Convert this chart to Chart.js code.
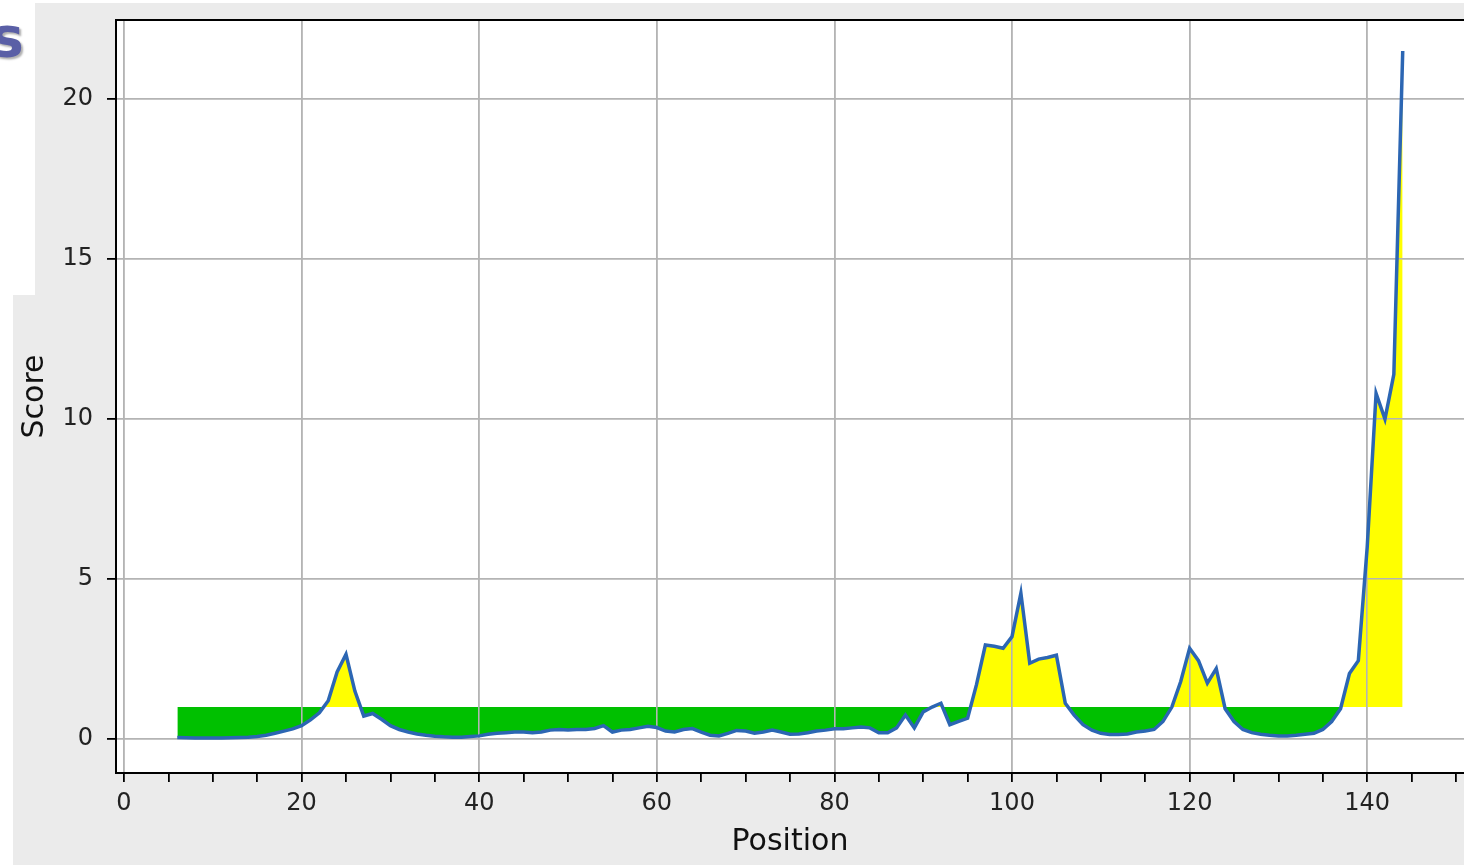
<!DOCTYPE html>
<html>
<head>
<meta charset="utf-8">
<title>Score by position</title>
<script src="https://cdn.jsdelivr.net/npm/chart.js@4.4.0/dist/chart.umd.min.js"></script>
<style>
    html, body { margin: 0; padding: 0; background: #fff; overflow: hidden; }
    #page { position: relative; width: 1464px; height: 865px; overflow: hidden; }
    #bg { position: absolute; left: 13px; top: 3px; right: 0; bottom: 0; background: #ebebeb; }
    #patch { position: absolute; left: 0; top: 0; width: 35px; height: 295px; background: #fff; }
    #title-bit {
        position: absolute; left: -9px; top: 10px;
        font: bold 55px "DejaVu Sans", sans-serif; line-height: 55px;
        color: #5a5fa6; text-shadow: 2px 2px 2px #b0b0b0;
    }
    #chart { position: absolute; left: 0; top: 0; }
</style>
</head>
<body>
<div id="page">
    <div id="bg"></div>
    <div id="patch"></div>
    <div id="title-bit">s</div>
    <canvas id="chart" width="1464" height="865"></canvas>
</div>
<script>
// --- Data ---
const positions = [
    6, 7, 8, 9, 10, 11, 12, 13, 14, 15,
    16, 17, 18, 19, 20, 21, 22, 23, 24, 25,
    26, 27, 28, 29, 30, 31, 32, 33, 34, 35,
    36, 37, 38, 39, 40, 41, 42, 43, 44, 45,
    46, 47, 48, 49, 50, 51, 52, 53, 54, 55,
    56, 57, 58, 59, 60, 61, 62, 63, 64, 65,
    66, 67, 68, 69, 70, 71, 72, 73, 74, 75,
    76, 77, 78, 79, 80, 81, 82, 83, 84, 85,
    86, 87, 88, 89, 90, 91, 92, 93, 94, 95,
    96, 97, 98, 99, 100, 101, 102, 103, 104, 105,
    106, 107, 108, 109, 110, 111, 112, 113, 114, 115,
    116, 117, 118, 119, 120, 121, 122, 123, 124, 125,
    126, 127, 128, 129, 130, 131, 132, 133, 134, 135,
    136, 137, 138, 139, 140, 141, 142, 143, 144
];

const scores = [
    0.05, 0.04, 0.03, 0.03, 0.03, 0.03, 0.04, 0.05, 0.06, 0.08,
    0.12, 0.18, 0.25, 0.32, 0.42, 0.6, 0.82, 1.2, 2.1, 2.65,
    1.5, 0.72, 0.8, 0.62, 0.42, 0.3, 0.22, 0.16, 0.12, 0.09,
    0.07, 0.06, 0.06, 0.08, 0.1, 0.15, 0.18, 0.2, 0.22, 0.22,
    0.2, 0.22, 0.28, 0.3, 0.28, 0.3, 0.3, 0.33, 0.42, 0.22,
    0.28, 0.3, 0.35, 0.4, 0.36, 0.25, 0.22, 0.3, 0.33, 0.22,
    0.12, 0.1, 0.18, 0.27, 0.25, 0.18, 0.22, 0.28, 0.22, 0.15,
    0.16, 0.2, 0.25, 0.28, 0.32, 0.32, 0.35, 0.38, 0.35, 0.2,
    0.2, 0.35, 0.75, 0.35, 0.85, 1.0, 1.12, 0.45, 0.55, 0.65,
    1.7, 2.94, 2.9, 2.84, 3.2, 4.56, 2.37, 2.5, 2.55, 2.62,
    1.12, 0.75, 0.45, 0.28, 0.18, 0.14, 0.14, 0.16, 0.22, 0.25,
    0.3, 0.55, 1.0, 1.8, 2.84, 2.45, 1.75, 2.2, 0.95, 0.55,
    0.3, 0.2, 0.15, 0.12, 0.1, 0.1, 0.12, 0.15, 0.18, 0.3,
    0.55, 0.95, 2.05, 2.45, 6.0, 10.8, 10.0, 11.4, 21.5
];

// threshold the fill is drawn against (yellow above, green below)
const threshold = 1;

// tick values: x has a tick every 5, a label + grid line every 20
const xTicks = [0, 5, 10, 15, 20, 25, 30, 35, 40, 45, 50, 55, 60, 65, 70, 75,
                80, 85, 90, 95, 100, 105, 110, 115, 120, 125, 130, 135, 140, 145, 150];
const xLabelTicks = [0, 20, 40, 60, 80, 100, 120, 140];
const yTicks = [0, 5, 10, 15, 20];

// --- Styles ---
const FONT = '"DejaVu Sans", "Liberation Sans", sans-serif';
const GRID_GRAY = '#b4b4b4';
const LINE_BLUE = '#2c66b3';

const points = positions.map((p, i) => ({ x: p, y: scores[i] }));

// white plot background + top spine, and grid redrawn over the fills (matplotlib order)
const framePlugin = {
    id: 'frame',
    beforeDraw(chart) {
        const { ctx, chartArea: a } = chart;
        ctx.save();
        ctx.fillStyle = '#fff';
        ctx.fillRect(a.left, a.top, a.right - a.left, a.bottom - a.top);
        ctx.restore();
    },
    beforeDatasetsDraw(chart) {
        ['x', 'y'].forEach(id => {
            const s = chart.scales[id];
            if (s && typeof s.drawGrid === 'function') s.drawGrid(chart.chartArea);
        });
    },
    afterDraw(chart) {
        const { ctx, chartArea: a } = chart;
        ctx.save();
        ctx.strokeStyle = '#000';
        ctx.lineWidth = 2;
        ctx.beginPath();
        ctx.moveTo(a.left - 1, a.top);
        ctx.lineTo(a.right, a.top);
        ctx.stroke();
        ctx.restore();
    }
};

const ctx = document.getElementById('chart').getContext('2d');
new Chart(ctx, {
    type: 'line',
    data: {
        datasets: [{
            data: points,
            borderColor: LINE_BLUE,
            borderWidth: 3.5,
            pointRadius: 0,
            tension: 0,
            fill: {
                target: { value: threshold },
                above: '#ffff00',
                below: '#00c000'
            }
        }]
    },
    options: {
        responsive: false,
        animation: false,
        layout: { padding: { top: 20, left: 0, right: 0, bottom: 0 } },
        plugins: {
            legend: { display: false },
            tooltip: { enabled: false },
            filler: { drawTime: 'beforeDatasetsDraw' }
        },
        scales: {
            x: {
                type: 'linear',
                min: -0.9,
                max: 150.9,
                afterBuildTicks: s => { s.ticks = xTicks.map(v => ({ value: v })); },
                afterFit: s => {
                    s.height = 92;
                    s.paddingLeft = 0;
                    s.paddingRight = 0;
                },
                border: { color: '#000', width: 2 },
                grid: {
                    color: c => (c.tick && xLabelTicks.includes(c.tick.value)) ? GRID_GRAY : 'rgba(0,0,0,0)',
                    lineWidth: 1.6,
                    tickColor: '#000',
                    tickWidth: 1.5,
                    tickLength: 9
                },
                ticks: {
                    autoSkip: false,
                    maxRotation: 0,
                    padding: 7,
                    color: '#222',
                    font: { family: FONT, size: 24 },
                    callback: v => xLabelTicks.includes(v) ? String(v) : ''
                },
                title: {
                    display: true,
                    text: 'Position',
                    color: '#111',
                    font: { family: FONT, size: 30 },
                    padding: { top: 0, bottom: 5 }
                }
            },
            y: {
                min: -1.06,
                max: 22.47,
                afterBuildTicks: s => { s.ticks = yTicks.map(v => ({ value: v })); },
                afterFit: s => {
                    s.width = 116;
                    s.paddingTop = 0;
                    s.paddingBottom = 0;
                },
                border: { color: '#000', width: 2 },
                grid: {
                    color: GRID_GRAY,
                    lineWidth: 1.6,
                    tickColor: '#000',
                    tickWidth: 1.5,
                    tickLength: 9
                },
                ticks: {
                    padding: 14,
                    color: '#222',
                    font: { family: FONT, size: 24 },
                    callback: v => String(v)
                },
                title: {
                    display: true,
                    text: 'Score',
                    color: '#111',
                    font: { family: FONT, size: 30 },
                    padding: { top: 17, bottom: 0 }
                }
            }
        }
    },
    plugins: [framePlugin]
});
</script>
</body>
</html>
